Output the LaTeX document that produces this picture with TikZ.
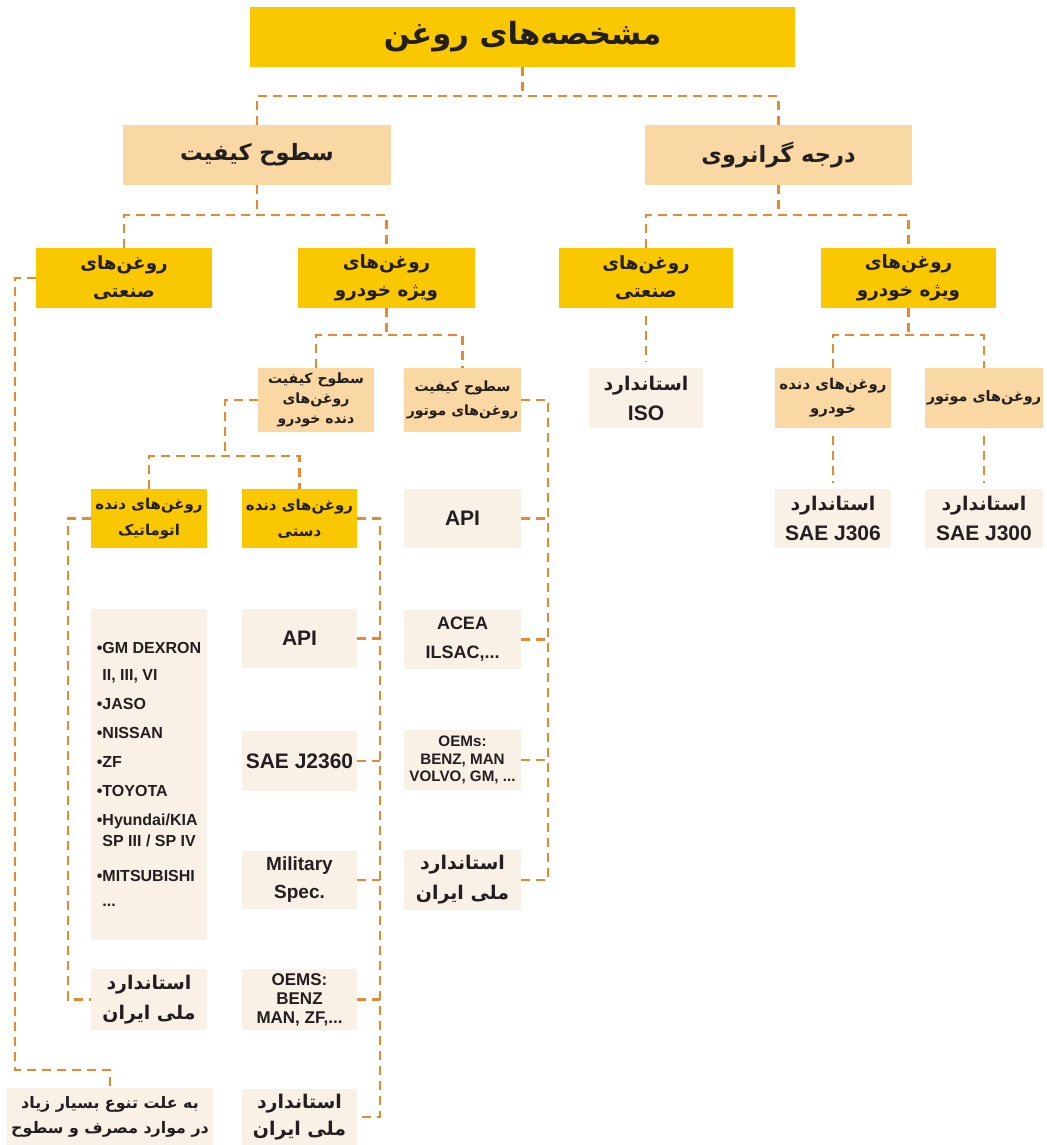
\documentclass[tikz,border=0pt]{standalone}
\usepackage{fontspec}
\usepackage{tikz}
\usetikzlibrary{calc,positioning}
\setmainfont{Liberation Sans}
\newfontfamily\fafont[Script=Arabic,Scale=0.9]{DejaVu Sans}
\TeXXeTstate=1
\definecolor{ylwc}{HTML}{FAC800}
\definecolor{pchc}{HTML}{F9D8A4}
\definecolor{crmc}{HTML}{FAF1E6}
\definecolor{lnc}{HTML}{E8892F}
\definecolor{txtc}{HTML}{231F20}
\tikzset{
  bx/.style={inner sep=0pt,align=center,text=txtc,font=\bfseries},
  sz/.style 2 args={minimum width=#1*0.5pt,minimum height=#2*0.5pt},
  yb/.style={bx,fill=ylwc},
  pb/.style={bx,fill=pchc},
  cb/.style={bx,fill=crmc},
  ln/.style={draw=lnc,line width=1.2pt,dash pattern=on 4.5pt off 3pt},
  gp/.style={shorten <=4pt,shorten >=3pt}
}
\newcommand{\fatx}[1]{{\fafont\bfseries\beginR #1\endR}}
\newcommand{\fsz}[2]{\fontsize{#1}{#2}\selectfont\bfseries}
\newcommand{\oils}{روغن^^^^200cهای}

\begin{document}
\begin{tikzpicture}[x=0.5pt,y=-0.5pt]
\useasboundingbox (0,0) rectangle (1046,1145);
\node[yb,sz={545}{60},font=\fsz{17}{20}] (top) at (522.5,37) {\fatx{مشخصه^^^^200cهای روغن}};
\node[pb,sz={268}{60},font=\fsz{12.5}{16}] (qual) at (257,155) {\fatx{سطوح کیفیت}};
\node[pb,sz={267}{60},font=\fsz{12.5}{16}] (visc) at (778.5,155) {\fatx{درجه گرانروی}};
\node[yb,sz={176}{60},font=\fsz{10.2}{14}] (qind) at (124,278) {\fatx{\oils}\\\fatx{صنعتی}};
\node[yb,sz={177}{60},font=\fsz{10.2}{14}] (qcar) at (386.5,278) {\fatx{\oils}\\\fatx{ویژه خودرو}};
\node[yb,sz={174}{60},font=\fsz{10.2}{14}] (vind) at (646,278) {\fatx{\oils}\\\fatx{صنعتی}};
\node[yb,sz={175}{60},font=\fsz{10.2}{14}] (vcar) at (908.5,278) {\fatx{\oils}\\\fatx{ویژه خودرو}};
\node[cb,sz={114}{60},font=\fsz{10.5}{15}] (iso) at (646,398) {\fatx{استاندارد}\\ISO};
\node[pb,sz={116}{60},font=\fsz{8.3}{12}] (vgear) at (833,398) {\fatx{\oils{} دنده}\\\fatx{خودرو}};
\node[pb,sz={118}{60},font=\fsz{8}{12}] (veng) at (984,398) {\fatx{\oils{} موتور}};
\node[cb,sz={116}{59},font=\fsz{10.5}{15}] (j306) at (833,518.5) {\fatx{استاندارد}\\SAE J306};
\node[cb,sz={118}{59},font=\fsz{10.5}{15}] (j300) at (984,518.5) {\fatx{استاندارد}\\SAE J300};
\node[pb,sz={116}{64},font=\fsz{7.8}{10}] (qgear) at (316,400) {\fatx{سطوح کیفیت}\\\fatx{\oils}\\\fatx{دنده خودرو}};
\node[pb,sz={117}{64},font=\fsz{7.8}{12}] (qeng) at (462.5,400) {\fatx{سطوح کیفیت}\\\fatx{\oils{} موتور}};
\node[yb,sz={116}{59},font=\fsz{8.3}{13}] (auto) at (149,518.5) {\fatx{\oils{} دنده}\\\fatx{اتوماتیک}};
\node[yb,sz={115}{59},font=\fsz{8.3}{13}] (man) at (299.5,518.5) {\fatx{\oils{} دنده}\\\fatx{دستی}};
\node[cb,sz={117}{59},font=\fsz{10.5}{14}] (eapi) at (462.5,518.5) {API};
\node[cb,sz={117}{59},font=\fsz{9}{14.5}] (eacea) at (462.5,639.5) {ACEA\\ILSAC,...};
\node[cb,sz={117}{60},font=\fsz{7.6}{8.8}] (eoem) at (462.5,760) {OEMs:\\BENZ, MAN\\VOLVO, GM, ...};
\node[cb,sz={117}{60},font=\fsz{10.5}{15}] (enat) at (462.5,880) {\fatx{استاندارد}\\\fatx{ملی ایران}};
\node[cb,sz={115}{59},font=\fsz{10.5}{14}] (mapi) at (299.5,638.5) {API};
\node[cb,sz={115}{60},font=\fsz{10.5}{14}] (msae) at (299.5,761) {SAE J2360};
\node[cb,sz={115}{58},font=\fsz{9.5}{14}] (mmil) at (299.5,880) {Military\\Spec.};
\node[cb,sz={115}{61},font=\fsz{8.5}{9.5}] (moem) at (299.5,999.5) {OEMS:\\BENZ\\MAN, ZF,...};
\node[cb,sz={115}{56},font=\fsz{10.5}{13.5}] (mnat) at (299.5,1117) {\fatx{استاندارد}\\\fatx{ملی ایران}};
\node[cb,sz={116}{331},align=left,font=\fsz{8}{14.5}] (alist) at (149,774.5)
  {•GM DEXRON\\[-1pt]\hphantom{•}II, III, VI\\•JASO\\•NISSAN\\•ZF\\•TOYOTA\\•Hyundai/KIA\\[-4pt]\hphantom{•}SP III / SP IV\\[3pt]•MITSUBISHI\\[-2pt]\hphantom{•}...};
\node[cb,sz={116}{61},font=\fsz{10.5}{15}] (anat) at (149,999.5) {\fatx{استاندارد}\\\fatx{ملی ایران}};
\node[cb,sz={206}{57},font=\fsz{8.8}{12.5}] (note) at (110,1116.5) {\fatx{به علت تنوع بسیار زیاد}\\\fatx{در موارد مصرف و سطوح}};
\draw[ln] (top.south) -- (top.south |- 0,96);
\draw[ln] (qual.north) |- (top.south |- 0,96) -| (visc.north);
\draw[ln] (qual.south) -- (qual.south |- 0,215);
\draw[ln] (qind.north) |- (qual.south |- 0,215) -| (qcar.north);
\draw[ln] (visc.south) -- (visc.south |- 0,215);
\draw[ln] (vind.north) |- (visc.south |- 0,215) -| (vcar.north);
\draw[ln,gp] (vind) -- (iso);
\draw[ln] (qcar.south) -- (qcar.south |- 0,335);
\draw[ln] (qgear.north) |- (qcar.south |- 0,335) -| (qeng.north);
\draw[ln] (vcar.south) -- (vcar.south |- 0,335);
\draw[ln] (vgear.north) |- (vcar.south |- 0,335) -| (veng.north);
\draw[ln,gp] (vgear) -- (j306);
\draw[ln,gp] (veng) -- (j300);
\coordinate (gk) at (225,456);
\draw[ln] (qgear.west) -| (gk);
\draw[ln] (auto.north) |- (gk) -| (man.north);
\coordinate (ek) at (548,400);
\draw[ln] (qeng.east) -| (ek |- enat.east) -- (enat.east);
\foreach \n in {eapi,eacea,eoem} \draw[ln] (\n.east) -- (\n.east -| ek);
\coordinate (mk) at (380,519);
\draw[ln] (man.east) -| (mk |- mnat.east) -- (mnat.east);
\foreach \n in {mapi,msae,mmil,moem} \draw[ln] (\n.east) -- (\n.east -| mk);
\coordinate (ak) at (68,519);
\draw[ln] (auto.west) -| (ak |- anat.west) -- (anat.west);
\coordinate (ik) at (15,1070);
\draw[ln] (qind.west) -| (ik) -| (note.north);
\end{tikzpicture}
\end{document}
